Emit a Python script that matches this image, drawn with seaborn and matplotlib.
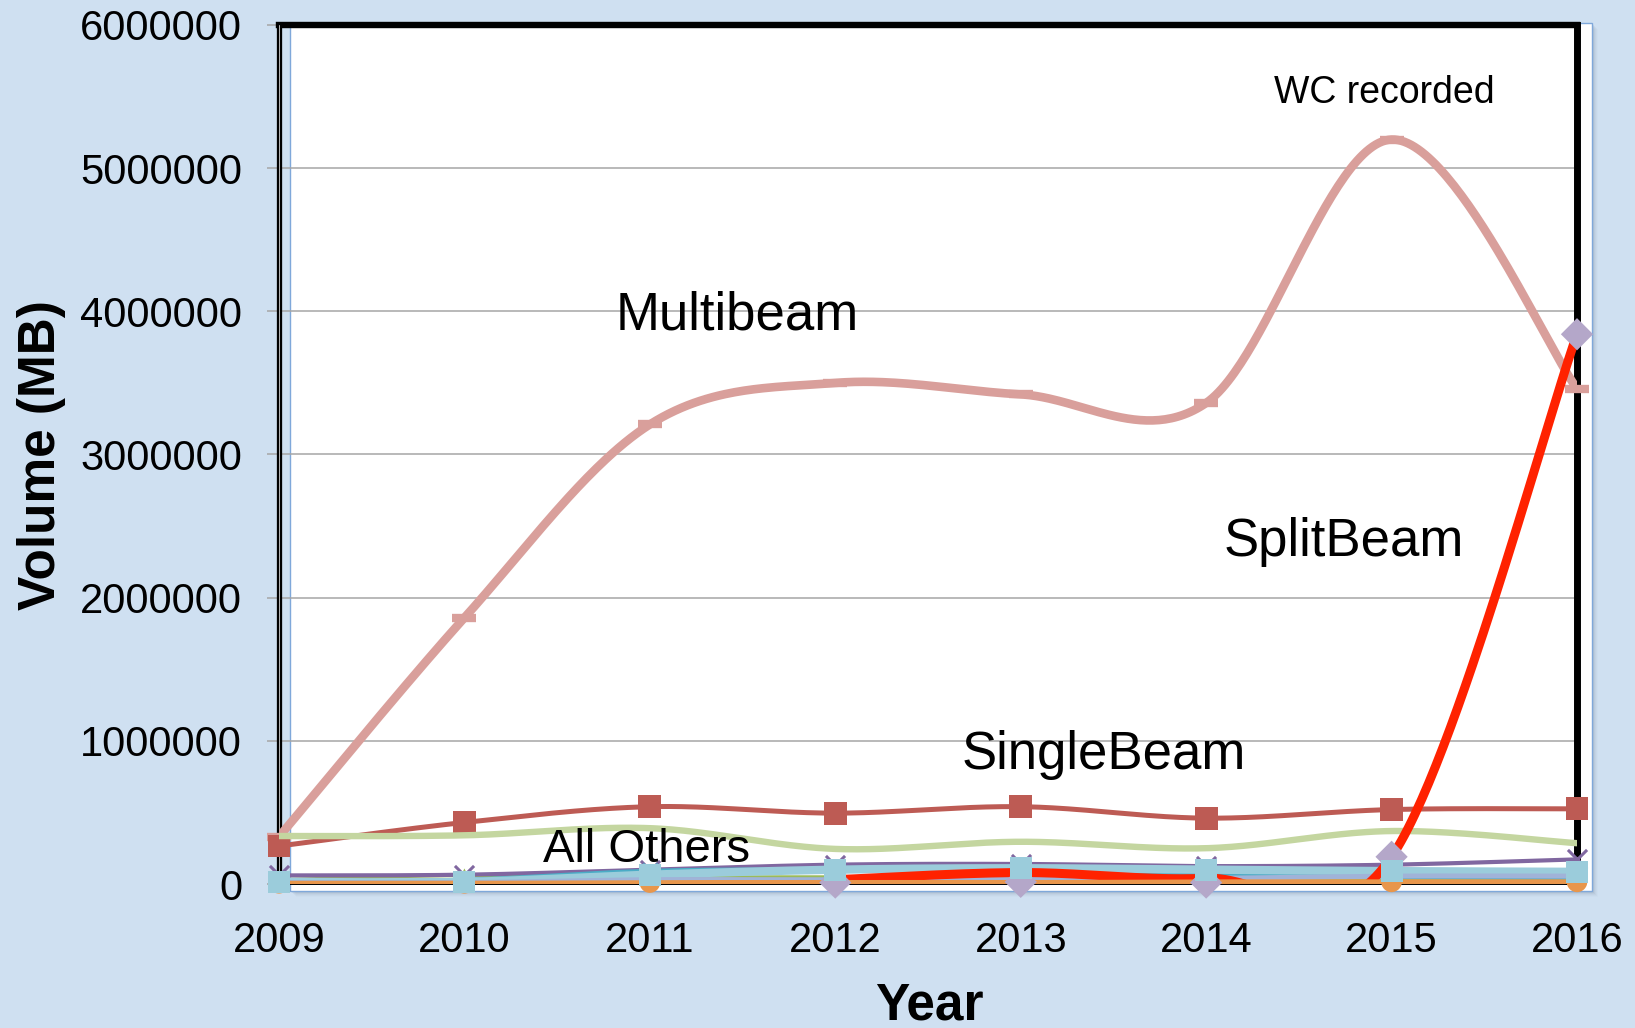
import numpy as np
import pandas as pd
import matplotlib
matplotlib.use("Agg")
import matplotlib.pyplot as plt
from matplotlib.patches import Rectangle
import seaborn as sns

# ---- data -------------------------------------------------------------
years = [2009, 2010, 2011, 2012, 2013, 2014, 2015, 2016]
nan = np.nan

multibeam = [330000, 1860000, 3210000, 3500000, 3420000, 3360000, 5200000, 3460000]
singlebeam = [265000, 430000, 540000, 495000, 540000, 460000, 520000, 525000]
all_others = [335000, 340000, 390000, 245000, 295000, 250000, 370000, 285000]
other_purple = [60000, 65000, 100000, 135000, 140000, 125000, 135000, 172000]
other_aqua = [20000, 30000, 92000, 100000, 90000, 70000, 50000, 45000]
other_lightblue = [15000, 15000, 65000, 100000, 110000, 100000, 90000, 85000]
other_steel = [10000, 10000, 30000, 30000, 40000, 40000, 55000, 55000]
other_green = [30000, 60000, 50000, 50000, 45000, 40000, 40000, 40000]
other_orange = [5000, 5000, 10000, 10000, 10000, 15000, 15000, 15000]
wc_points = [nan, nan, nan, 10000, 15000, 10000, 190000, 3840000]
splitbeam = [nan, nan, nan, 30000, 80000, 40000, 190000, 3840000]

y_ticks = [0, 1000000, 2000000, 3000000, 4000000, 5000000, 6000000]
y_tick_labels = ["0", "1000000", "2000000", "3000000", "4000000", "5000000", "6000000"]
x_tick_labels = ["2009", "2010", "2011", "2012", "2013", "2014", "2015", "2016"]

labels = {
    "Multibeam": (2011.47, 3876000, 38),
    "SplitBeam": (2014.74, 2290000, 38),
    "SingleBeam": (2013.45, 800000, 38),
    "All Others": (2010.98, 154000, 34),
    "WC recorded": (2014.96, 5455000, 27),
}


def smooth(xs, ys, n=60):
    """Smoothed path (cubic Bezier, Catmull-Rom style control points)."""
    pts = np.array([(x, y) for x, y in zip(xs, ys) if not np.isnan(y)], float)
    out = []
    for i in range(len(pts) - 1):
        p0 = pts[i - 1] if i > 0 else pts[i]
        p1, p2 = pts[i], pts[i + 1]
        p3 = pts[i + 2] if i + 2 < len(pts) else pts[i + 1]
        c1 = p1 + (p2 - p0) / 6.0
        c2 = p2 - (p3 - p1) / 6.0
        t = np.linspace(0, 1, n)[:, None]
        seg = ((1 - t) ** 3) * p1 + 3 * ((1 - t) ** 2) * t * c1 \
            + 3 * (1 - t) * t ** 2 * c2 + t ** 3 * p2
        out.append(seg if i == 0 else seg[1:])
    path = np.vstack(out)
    return path[:, 0], path[:, 1]


# ---- figure -----------------------------------------------------------
sns.set_style("white")
plt.rcParams["font.family"] = ["Liberation Sans", "DejaVu Sans"]
plt.rcParams["text.color"] = "black"
plt.rcParams["xtick.color"] = "black"
plt.rcParams["ytick.color"] = "black"

W, H = 1635, 1028
BG = "#CFE0F1"
fig = plt.figure(figsize=(W / 100, H / 100), dpi=100, facecolor=BG)

# plot-area panel with a soft shadow
for k, a in zip(range(1, 7), [0.10, 0.08, 0.06, 0.045, 0.03, 0.02]):
    fig.patches.append(Rectangle((290 / W + k / W, 1 - (891 + k) / H),
                                 1302 / W, 868 / H, transform=fig.transFigure,
                                 facecolor="#4A5A70", alpha=a, edgecolor="none", zorder=-2))
fig.patches.append(Rectangle((290 / W, 1 - 891 / H), 1302 / W, 868 / H,
                             transform=fig.transFigure, facecolor="white",
                             edgecolor="#7FA8DA", linewidth=1.0, zorder=-1))

ax = fig.add_axes([279 / W, 1 - 884 / H, (1577 - 279) / W, (884 - 25) / H])
ax.set_zorder(1)
ax.set_facecolor("none")
ax.set_xlim(2009, 2016)
ax.set_ylim(0, 6000000)

ax.set_yticks(y_ticks)
ax.set_yticklabels(y_tick_labels)
ax.set_xticks(years)
ax.set_xticklabels(x_tick_labels)
ax.tick_params(axis="y", which="major", direction="out", length=8.6, width=1.1,
               color="#A6A6A6", labelcolor="black", labelsize=30, pad=18, left=True)
ax.tick_params(axis="x", which="major", length=0, labelsize=30, pad=27,
               labelcolor="black")
ax.yaxis.grid(True, color="#A6A6A6", linewidth=1.1, zorder=1)
ax.xaxis.grid(False)
ax.set_axisbelow(True)

for side, lw in [("left", 3.8), ("top", 4.6), ("right", 5.0), ("bottom", 1.4)]:
    ax.spines[side].set_visible(True)
    ax.spines[side].set_color("black")
    ax.spines[side].set_linewidth(lw)
    ax.spines[side].set_zorder(2)
ax.axvline(2009, color="#B8B8B8", linewidth=0.7, zorder=2.1)

# ---- series -----------------------------------------------------------
def draw_line(values, color, lw, z):
    sx, sy = smooth(years, values)
    sns.lineplot(x=sx, y=sy, sort=False, estimator=None, color=color,
                 linewidth=lw, ax=ax, zorder=z, legend=False)


def draw_marks(values, color, marker, s, z, lw=0):
    df = pd.DataFrame({"year": years, "value": values}).dropna()
    kw = dict(x="year", y="value", data=df, marker=marker, s=s, color=color,
              ax=ax, zorder=z, clip_on=False, legend=False)
    if marker in ("x", "_"):
        kw["linewidth"] = lw
    else:
        kw["linewidth"] = 0
        kw["edgecolor"] = "none"
    sns.scatterplot(**kw)


draw_line(multibeam, "#D99F9B", 6.2, 3)
draw_marks(multibeam, "#D99F9B", "_", 300, 3.1, lw=6.0)

draw_line(singlebeam, "#BD5B54", 3.6, 4)
draw_marks(singlebeam, "#BD5B54", "s", 270, 4.1)

draw_line(all_others, "#C4D6A0", 4.6, 5)

draw_line(other_green, "#9BBB59", 2.4, 5.5)
draw_marks(other_green, "#9BBB59", "^", 100, 5.6)

draw_line(other_purple, "#8067A0", 3.0, 6)
draw_marks(other_purple, "#8067A0", "x", 190, 6.1, lw=2.2)

draw_line(other_aqua, "#4BACC6", 3.0, 7)
draw_marks(other_aqua, "#4BACC6", "x", 120, 7.1, lw=2.2)

draw_line(other_lightblue, "#9BCCDB", 6.0, 7.5)
draw_line(other_steel, "#A0B3D8", 3.6, 7.6)

draw_line(splitbeam, "#FF2200", 6.5, 8)

draw_line(other_orange, "#E8964B", 3.6, 9)
draw_marks(other_orange, "#E8964B", "o", 220, 9.1)

draw_marks(wc_points, "#B4A7C9", "D", 270, 10)

draw_marks(other_lightblue, "#9BCCDB", "s", 250, 11)

ax.set_xlabel("")
ax.set_ylabel("")

# ---- series labels ----------------------------------------------------
for text, (lx, ly, size) in labels.items():
    ax.text(lx, ly, text, fontsize=size, ha="center", va="baseline",
            color="black", zorder=20)

# ---- axis titles ------------------------------------------------------
fig.text(42 / W, 1 - 455 / H, "Volume (MB)", fontsize=37, fontweight="bold",
         rotation=90, ha="center", va="center", color="black")
fig.text(929 / W, 1 - 1020 / H, "Year", fontsize=37, fontweight="bold",
         ha="center", va="baseline", color="black")

fig.savefig("out.png", dpi=100, facecolor=BG)
